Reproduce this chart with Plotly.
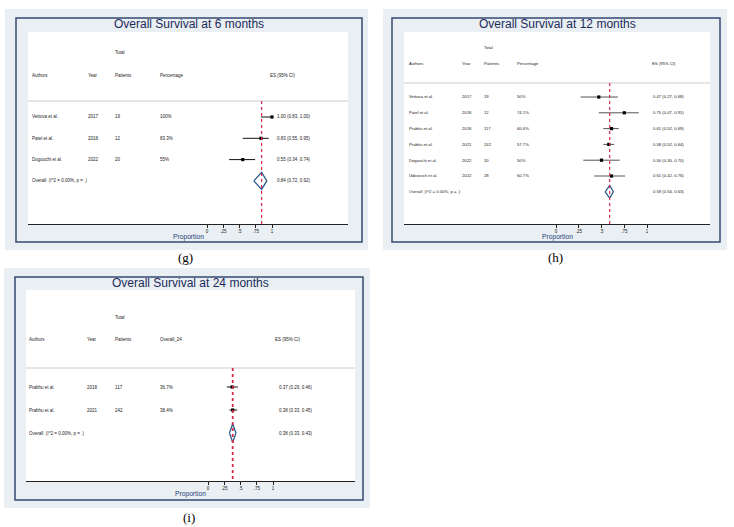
import plotly.graph_objects as go

W, H = 734, 527

# ---------------- data ----------------
# Panel (g): Overall Survival at 6 months
g_authors = ["Vettova et al.", "Patel et al.", "Dogouchi et al."]
g_years = ["2017", "2018", "2022"]
g_patients = ["19", "12", "20"]
g_pct = ["100%", "83.3%", "55%"]
g_es = [1.00, 0.83, 0.55]
g_lo = [0.83, 0.55, 0.34]
g_hi = [1.00, 0.95, 0.74]
g_overall = [0.84, 0.72, 0.92]

# Panel (h): Overall Survival at 12 months
h_authors = ["Vettova et al.", "Patel et al.", "Prabhu et al.", "Prabhu et al.",
             "Dogouchi et al.", "Udovicich et al."]
h_years = ["2017", "2018", "2018", "2021", "2022", "2022"]
h_patients = ["19", "12", "117", "242", "20", "28"]
h_pct = ["50%", "74.1%", "60.6%", "57.7%", "50%", "60.7%"]
h_es = [0.47, 0.75, 0.61, 0.58, 0.50, 0.61]
h_lo = [0.27, 0.47, 0.52, 0.52, 0.30, 0.42]
h_hi = [0.68, 0.91, 0.69, 0.64, 0.70, 0.76]
h_overall = [0.59, 0.54, 0.63]

# Panel (i): Overall Survival at 24 months
i_authors = ["Prabhu et al.", "Prabhu et al."]
i_years = ["2018", "2021"]
i_patients = ["117", "242"]
i_pct = ["36.7%", "38.4%"]
i_es = [0.37, 0.38]
i_lo = [0.29, 0.33]
i_hi = [0.46, 0.45]
i_overall = [0.38, 0.33, 0.43]

tick_vals = [0, 0.25, 0.5, 0.75, 1]
tick_text = ["0", ".25", ".5", ".75", "1"]
overall_label = "Overall  (I^2 = 0.00%, p = .)"

# ---------------- styling / geometry ----------------
BOX_BG = "#e9eff2"
FRAME = "#364a74"
NAVY = "#1d2b5c"
PROP = "#27407c"
TXT = "#222222"
DIAMOND = "#2b5d8e"
REFLINE = "#d42a4a"
FONT = "Liberation Sans"


def px(x):
    return x / W


def py(y):
    return 1 - y / H


panels = [
    dict(name="(g)", title="Overall Survival at 6 months", pct_head="Percentage",
         authors=g_authors, years=g_years, patients=g_patients, pct=g_pct,
         es=g_es, lo=g_lo, hi=g_hi, overall=g_overall, ci_color="#111111",
         outer=(5, 9, 368, 250), frame=(16, 18, 362, 242), white=(28, 32, 348, 224),
         title_xy=(189, 24), label_xy=(185, 257),
         cols=(30, 86, 113, 158, 268, 275), head_y=(53, 76, 101),
         row0=117, step=21.3, x0=207, ppu=65, fs=4.5, ref_w=1.2),
    dict(name="(h)", title="Overall Survival at 12 months", pct_head="Percentage",
         authors=h_authors, years=h_years, patients=h_patients, pct=h_pct,
         es=h_es, lo=h_lo, hi=h_hi, overall=h_overall, ci_color="#555555",
         outer=(383, 9, 727, 250), frame=(392, 18, 720, 242), white=(404, 32, 710, 224),
         title_xy=(557, 24), label_xy=(555, 257),
         cols=(407, 460, 482, 515, 650, 651), head_y=(48, 64, 83),
         row0=97, step=15.8, x0=556, ppu=91, fs=4.2, ref_w=1.2),
    dict(name="(i)", title="Overall Survival at 24 months", pct_head="Overall_24",
         authors=i_authors, years=i_years, patients=i_patients, pct=i_pct,
         es=i_es, lo=i_lo, hi=i_hi, overall=i_overall, ci_color="#111111",
         outer=(4, 268, 370, 508), frame=(15, 277, 363, 500), white=(26, 290, 355, 481),
         title_xy=(190, 283), label_xy=(189, 517),
         cols=(27, 85, 113, 158, 273, 277), head_y=(317, 339, 368),
         row0=387, step=23, x0=208, ppu=65, fs=4.5, ref_w=1.8),
]

fig = go.Figure()
shapes = []
annotations = []
layout_axes = {}

for k, p in enumerate(panels):
    n = k + 1
    xa = "x" if n == 1 else f"x{n}"
    ya = "y" if n == 1 else f"y{n}"
    xkey = "xaxis" if n == 1 else f"xaxis{n}"
    ykey = "yaxis" if n == 1 else f"yaxis{n}"

    wl, wt, wr, wb = p["white"]
    row0, step = p["row0"], p["step"]

    def yi(pix, row0=row0, step=step):
        return (pix - row0) / step

    # boxes
    ol, ot, orr, ob = p["outer"]
    shapes.append(dict(type="rect", xref="paper", yref="paper", layer="below",
                       x0=px(ol), x1=px(orr), y0=py(ob), y1=py(ot),
                       fillcolor=BOX_BG, line=dict(width=0)))
    fl, ft, fr, fb = p["frame"]
    shapes.append(dict(type="rect", xref="paper", yref="paper", layer="below",
                       x0=px(fl), x1=px(fr), y0=py(fb), y1=py(ft),
                       fillcolor=BOX_BG, line=dict(color=FRAME, width=1.5)))
    shapes.append(dict(type="rect", xref="paper", yref="paper", layer="below",
                       x0=px(wl), x1=px(wr), y0=py(wb), y1=py(wt),
                       fillcolor="white", line=dict(width=0)))

    # axes
    layout_axes[xkey] = dict(
        domain=[px(wl), px(wr)], anchor=ya,
        range=[(wl - p["x0"]) / p["ppu"], (wr - p["x0"]) / p["ppu"]],
        tickvals=tick_vals, ticktext=tick_text, ticks="outside", ticklen=3,
        tickwidth=0.8, tickcolor="#222", tickfont=dict(size=4.5, color=TXT, family=FONT),
        showline=True, linecolor="#222", linewidth=1, showgrid=False, zeroline=False,
        fixedrange=True)
    layout_axes[ykey] = dict(
        domain=[py(wb), py(wt)], anchor=xa,
        range=[yi(wb), yi(wt)], visible=False, showgrid=False, zeroline=False,
        fixedrange=True)

    nrows = len(p["es"])
    rows = list(range(nrows))
    ov_row = nrows

    # separator line
    sep = yi(p["head_y"][2])
    shapes.append(dict(type="line", xref="paper", yref=ya,
                       x0=px(wl), x1=px(wr), y0=sep, y1=sep,
                       line=dict(color="#cccccc", width=1)))
    # reference (overall) dashed line
    shapes.append(dict(type="line", xref=xa, yref=ya,
                       x0=p["overall"][0], x1=p["overall"][0], y0=sep, y1=yi(wb),
                       line=dict(color=REFLINE, width=p["ref_w"], dash="dot")))

    # study estimates with CIs
    fig.add_trace(go.Scatter(
        x=p["es"], y=rows, xaxis=xa, yaxis=ya, mode="markers",
        marker=dict(symbol="square", size=3.2, color="black"),
        error_x=dict(type="data", symmetric=False,
                     array=[h - e for h, e in zip(p["hi"], p["es"])],
                     arrayminus=[e - l for e, l in zip(p["es"], p["lo"])],
                     thickness=1, width=0, color=p["ci_color"]),
        hoverinfo="skip", showlegend=False))

    # overall diamond
    oe, olo, ohi = p["overall"]
    hh = 0.4
    fig.add_trace(go.Scatter(
        x=[olo, oe, ohi, oe, olo], y=[ov_row, ov_row - hh, ov_row, ov_row + hh, ov_row],
        xaxis=xa, yaxis=ya, mode="lines",
        line=dict(color=DIAMOND, width=1.3), hoverinfo="skip", showlegend=False))

    # texts
    cA, cY, cP, cPct, cEh, cE = p["cols"]
    fs = p["fs"]

    def txt(x, y, s, size=fs, color=TXT, xanchor="left", yref=ya, family=FONT):
        annotations.append(dict(x=x, y=y, xref="paper", yref=yref, text=s,
                                showarrow=False, xanchor=xanchor, yanchor="middle",
                                font=dict(size=size, color=color, family=family)))

    txt(px(cP), yi(p["head_y"][0]), "Total")
    hy = yi(p["head_y"][1])
    txt(px(cA), hy, "Authors")
    txt(px(cY), hy, "Year")
    txt(px(cP), hy, "Patients")
    txt(px(cPct), hy, p["pct_head"])
    txt(px(cEh), hy, "ES (95% CI)")
    for r in rows:
        txt(px(cA), r, p["authors"][r])
        txt(px(cY), r, p["years"][r])
        txt(px(cP), r, p["patients"][r])
        txt(px(cPct), r, p["pct"][r])
        txt(px(cE), r, f"{p['es'][r]:.2f} ({p['lo'][r]:.2f}, {p['hi'][r]:.2f})")
    txt(px(cA), ov_row, overall_label)
    txt(px(cE), ov_row, f"{oe:.2f} ({olo:.2f}, {ohi:.2f})")

    # title
    tx, ty = p["title_xy"]
    annotations.append(dict(x=px(tx), y=py(ty), xref="paper", yref="paper",
                            text=p["title"], showarrow=False, xanchor="center",
                            yanchor="middle", font=dict(size=12, color=NAVY, family=FONT)))
    # axis title
    annotations.append(dict(x=px((wl + wr) / 2), y=py(wb + 13), xref="paper", yref="paper",
                            text="Proportion", showarrow=False, xanchor="center",
                            yanchor="middle", font=dict(size=6.7, color=PROP, family=FONT)))
    # panel label
    lx, ly = p["label_xy"]
    annotations.append(dict(x=px(lx), y=py(ly), xref="paper", yref="paper",
                            text=p["name"], showarrow=False, xanchor="center",
                            yanchor="middle",
                            font=dict(size=13, color="black", family="Liberation Serif")))

fig.update_layout(
    width=W, height=H, margin=dict(l=0, r=0, t=0, b=0),
    paper_bgcolor="white", plot_bgcolor="rgba(0,0,0,0)",
    shapes=shapes, annotations=annotations, showlegend=False,
    **layout_axes)

fig.write_html("out.html", config={"displayModeBar": False},
               post_script="document.body.style.margin='0';document.body.style.overflow='hidden';")
